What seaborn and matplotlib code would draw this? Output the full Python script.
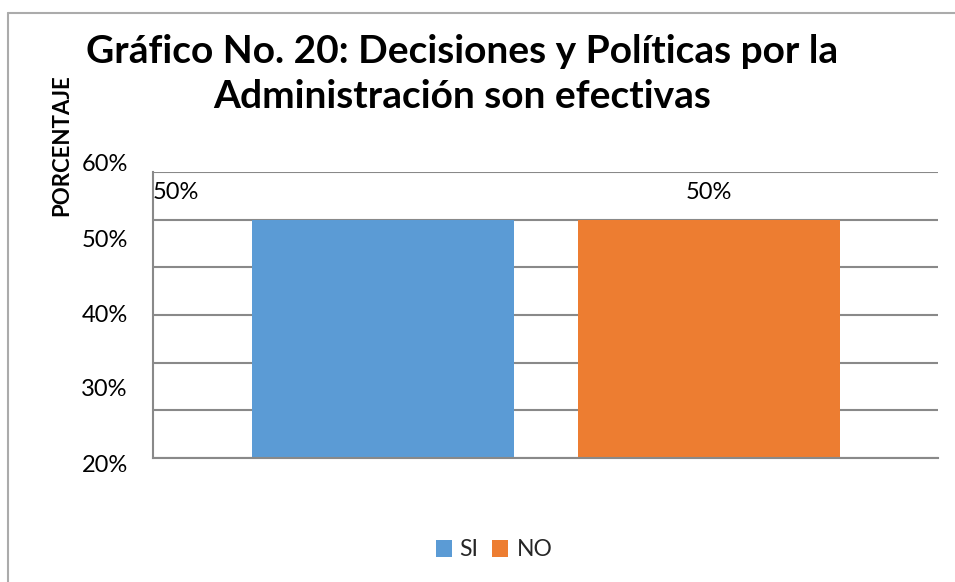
import matplotlib
matplotlib.use("Agg")
import matplotlib.pyplot as plt
import matplotlib.transforms as mtransforms
from matplotlib.lines import Line2D
import seaborn as sns
import pandas as pd

# ---- data ----
categories = ["SI", "NO"]
values = [50, 50]
bar_labels = ["50%", "50%"]
colors = ["#5B9BD5", "#ED7D31"]
ytick_texts = ["60%", "50%", "40%", "30%", "20%"]
ytick_positions = [61.5, 45.7, 30.0, 14.3, -1.5]
grid_values = [0, 10, 20, 30, 40, 50, 60]
title = "Gráfico No. 20: Decisiones y Políticas por la\nAdministración son efectivas"
ylabel = "PORCENTAJE"

df = pd.DataFrame({"cat": categories, "val": values})

sns.set_theme(style="white")
plt.rcParams["font.family"] = ["Lato", "DejaVu Sans"]

fig = plt.figure(figsize=(9.55, 5.82), dpi=100)
ax = fig.add_axes([153/955, 1-458/582, (938-153)/955, (458-172)/582])

sns.barplot(data=df, x="cat", y="val", hue="cat", palette=colors,
            order=categories, hue_order=categories, dodge=False,
            width=0.804, saturation=1, ax=ax, legend=True, linewidth=0)

ax.set_ylim(0, 60)
ax.set_xlim(-0.7055, 1.7025)
ax.set_yticks(grid_values)
ax.set_yticklabels([])
ax.set_xticks([])
ax.set_xlabel("")
ax.set_ylabel("")
ax.tick_params(length=0)
ax.yaxis.grid(True, color="#898989", linewidth=1.5)
ax.set_axisbelow(True)
for s in ["top", "right"]:
    ax.spines[s].set_visible(False)
for s in ["left", "bottom"]:
    ax.spines[s].set_color("#898989")
    ax.spines[s].set_linewidth(1.5)

# y tick label texts (as in reference)
trans = mtransforms.blended_transform_factory(ax.transAxes, ax.transData)
for t, p in zip(ytick_texts, ytick_positions):
    ax.text(-0.032, p, t, transform=trans, ha="right", va="center",
            fontsize=17, color="#000000", clip_on=False)

# data labels
ax.text(-0.7055, 55.8, bar_labels[0], ha="left", va="center", fontsize=17, color="#000000")
ax.text(1.0, 55.8, bar_labels[1], ha="center", va="center", fontsize=17, color="#000000")

# y label
fig.text(62/955, 1-145/582, ylabel, rotation=90, ha="center", va="center",
         fontsize=16, fontweight="bold", color="#000000")

# title
fig.text(462/955, 1-74/582, title, ha="center", va="center", fontsize=28,
         fontweight="bold", color="#000000", linespacing=1.35)

# legend
handles, labels = ax.get_legend_handles_labels()
ax.get_legend().remove()
fig.legend(handles, labels, loc="center", bbox_to_anchor=(494/955, 1-550/582),
           ncol=2, frameon=False, fontsize=16.5, handlelength=0.7, handleheight=0.7,
           handletextpad=0.35, columnspacing=0.6)

# outer border
fig.add_artist(Line2D([8/955, 8/955], [0, 1-13/582], transform=fig.transFigure,
                      color="#ababab", linewidth=1.5))
fig.add_artist(Line2D([8/955, 1], [1-13/582, 1-13/582], transform=fig.transFigure,
                      color="#ababab", linewidth=1.5))

fig.savefig("out.png", dpi=100)
